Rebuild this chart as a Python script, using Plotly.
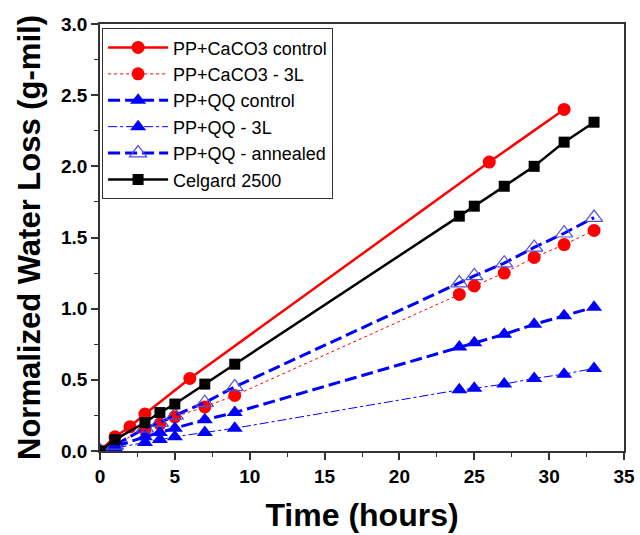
import plotly.graph_objects as go

# Data
red_ctrl_x = [0, 1, 2, 3, 6, 26, 31]
red_ctrl_y = [0.0, 0.10, 0.17, 0.26, 0.51, 2.03, 2.40]

red_3l_x = [0, 1, 3, 4, 5, 7, 9, 24, 25, 27, 29, 31, 33]
red_3l_y = [0.0, 0.05, 0.15, 0.19, 0.24, 0.31, 0.39, 1.10, 1.16, 1.25, 1.36, 1.45, 1.55]

qq_ctrl_x = [0, 1, 3, 4, 5, 7, 9, 24, 25, 27, 29, 31, 33]
qq_ctrl_y = [0.0, 0.03, 0.10, 0.13, 0.16, 0.22, 0.27, 0.73, 0.76, 0.82, 0.89, 0.95, 1.01]

qq_3l_x = [0, 1, 3, 4, 5, 7, 9, 24, 25, 27, 29, 31, 33]
qq_3l_y = [0.0, 0.02, 0.06, 0.08, 0.10, 0.13, 0.16, 0.43, 0.44, 0.47, 0.51, 0.54, 0.58]

qq_ann_x = [0, 1, 3, 4, 5, 7, 9, 24, 25, 27, 29, 31, 33]
qq_ann_y = [0.0, 0.04, 0.16, 0.20, 0.25, 0.34, 0.45, 1.18, 1.23, 1.32, 1.43, 1.53, 1.64]

celg_x = [0, 1, 3, 4, 5, 7, 9, 24, 25, 27, 29, 31, 33]
celg_y = [0.0, 0.08, 0.20, 0.27, 0.33, 0.47, 0.61, 1.65, 1.72, 1.86, 2.00, 2.17, 2.31]

x_ticks = [0, 5, 10, 15, 20, 25, 30, 35]
y_ticks = [0.0, 0.5, 1.0, 1.5, 2.0, 2.5, 3.0]

RED = "#ff0000"
BLUE = "#0000ff"
FONT = "Arial, Liberation Sans, sans-serif"

fig = go.Figure()
fig.add_trace(go.Scatter(x=red_ctrl_x, y=red_ctrl_y, name="PP+CaCO3 control", mode="lines+markers",
                         line=dict(color=RED, width=2.5), marker=dict(symbol="circle", size=13, color=RED)))
fig.add_trace(go.Scatter(x=red_3l_x, y=red_3l_y, name="PP+CaCO3 - 3L", mode="lines+markers",
                         line=dict(color=RED, width=1, dash="dot"), marker=dict(symbol="circle", size=13, color=RED)))
fig.add_trace(go.Scatter(x=qq_ctrl_x, y=qq_ctrl_y, name="PP+QQ control", mode="lines+markers",
                         line=dict(color=BLUE, width=3, dash="12px,5px"), marker=dict(symbol="triangle-up", size=14, color=BLUE)))
fig.add_trace(go.Scatter(x=qq_3l_x, y=qq_3l_y, name="PP+QQ - 3L", mode="lines+markers",
                         line=dict(color=BLUE, width=1, dash="dashdot"), marker=dict(symbol="triangle-up", size=14, color=BLUE)))
fig.add_trace(go.Scatter(x=qq_ann_x, y=qq_ann_y, name="PP+QQ - annealed", mode="lines+markers",
                         line=dict(color=BLUE, width=3, dash="12px,5px"),
                         marker=dict(symbol="triangle-up-open", size=15, color="#5050d8", line=dict(width=1.2))))
fig.add_trace(go.Scatter(x=celg_x, y=celg_y, name="Celgard 2500", mode="lines+markers",
                         line=dict(color="black", width=2.5), marker=dict(symbol="square", size=11, color="black")))

axis_common = dict(showline=True, linecolor="#333", linewidth=1.5, mirror=True, ticks="outside",
                   ticklen=7, tickwidth=1.5, tickcolor="#333", showgrid=False, zeroline=False,
                   automargin=False,
                   tickfont=dict(family=FONT, size=19, color="black", weight="bold"))

fig.update_xaxes(range=[0, 35], tickvals=x_ticks, ticktext=[str(v) for v in x_ticks],
                 minor=dict(ticks="outside", ticklen=4, tickwidth=1, tickcolor="#333", dtick=2.5, tick0=0),
                 title=dict(text="Time (hours)", font=dict(family=FONT, size=32, color="black", weight="bold"), standoff=18),
                 **axis_common)
fig.update_yaxes(range=[0, 3.0], tickvals=y_ticks, ticktext=["%.1f" % v for v in y_ticks],
                 minor=dict(ticks="outside", ticklen=4, tickwidth=1, tickcolor="#333", dtick=0.25, tick0=0),
                 title=dict(text="Normalized Water Loss (g-mil)", font=dict(family=FONT, size=31, color="black", weight="bold"), standoff=11),
                 **axis_common)

fig.update_layout(
    width=640, height=535,
    margin=dict(l=100, r=16, t=24, b=84),
    paper_bgcolor="white", plot_bgcolor="white",
    font=dict(family=FONT, color="black"),
    showlegend=True,
    legend=dict(x=0.004, y=0.99, xanchor="left", yanchor="top", bgcolor="white",
                bordercolor="#333", borderwidth=1, font=dict(size=18, color="black"),
                tracegroupgap=0, itemwidth=60),
)

fig.write_html("out.html", config={"displayModeBar": False},
               post_script="document.body.style.margin='0';document.body.style.padding='0';")
